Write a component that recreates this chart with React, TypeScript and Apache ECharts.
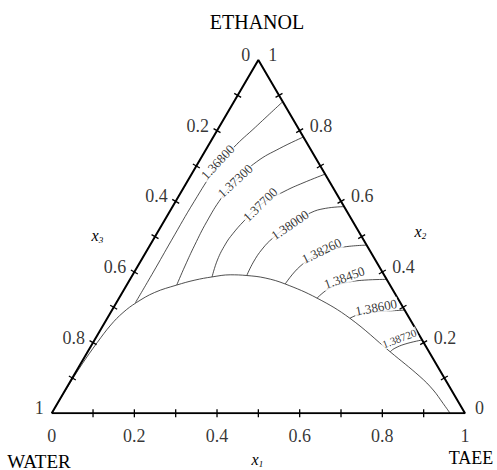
import React, { useEffect, useRef } from "react";
import * as echarts from "echarts";

// ---- data (ternary mole fractions: x1 = TAEE, x2 = ETHANOL, x3 = WATER) ----
const TICK_VALUES = [0.1, 0.2, 0.3, 0.4, 0.5, 0.6, 0.7, 0.8, 0.9];
const LABEL_VALUES = [0, 0.2, 0.4, 0.6, 0.8, 1];
const BOTTOM_LABELS = ["0", "0.2", "0.4", "0.6", "0.8", "1"]; // x1 (TAEE)
const LEFT_LABELS = ["0", "0.2", "0.4", "0.6", "0.8", "1"]; // x3 (WATER)
const RIGHT_LABELS = ["0", "0.2", "0.4", "0.6", "0.8", "1"]; // x2 (ETHANOL)

const BINODAL_TAEE = [0, 0.001, 0.004, 0.01, 0.018, 0.03, 0.048, 0.078, 0.121, 0.158, 0.195, 0.236, 0.277, 0.325, 0.382, 0.479, 0.587, 0.732, 0.839, 0.89, 0.933, 0.964];
const BINODAL_ETHANOL = [0, 0.07, 0.14, 0.2, 0.25, 0.285, 0.313, 0.342, 0.363, 0.377, 0.386, 0.392, 0.39, 0.383, 0.366, 0.326, 0.269, 0.174, 0.104, 0.066, 0.028, 0];

const ISO_NAMES = ["1.36800", "1.37300", "1.37700", "1.38000", "1.38260", "1.38450", "1.38600", "1.38720"];
const ISO_TAEE = [
  [0.118, 0.088, 0.064, 0.05, 0.045, 0.045, 0.046, 0.046],
  [0.218, 0.177, 0.14, 0.117, 0.106, 0.104, 0.108, 0.114, 0.121],
  [0.323, 0.282, 0.25, 0.21, 0.193, 0.184, 0.181, 0.184, 0.195],
  [0.415, 0.372, 0.342, 0.31, 0.287, 0.277, 0.274, 0.277],
  [0.524, 0.463, 0.423, 0.393, 0.382],
  [0.621, 0.569, 0.525, 0.496, 0.479],
  [0.708, 0.65, 0.61, 0.587],
  [0.7925, 0.757, 0.737, 0.732],
];
const ISO_ETHANOL = [
  [0.882, 0.81, 0.752, 0.69, 0.6, 0.49, 0.4, 0.313],
  [0.782, 0.75, 0.712, 0.66, 0.609, 0.542, 0.476, 0.417, 0.363],
  [0.677, 0.652, 0.629, 0.59, 0.544, 0.508, 0.479, 0.434, 0.386],
  [0.585, 0.58, 0.567, 0.533, 0.496, 0.465, 0.428, 0.39],
  [0.476, 0.469, 0.452, 0.416, 0.366],
  [0.379, 0.377, 0.369, 0.355, 0.326],
  [0.292, 0.288, 0.283, 0.269],
  [0.2075, 0.196, 0.183, 0.174],
];
const ISO_LABEL_TAEE = [0.046, 0.115, 0.209, 0.31, 0.423, 0.516, 0.635, 0.735];
const ISO_LABEL_ETHANOL = [0.711, 0.658, 0.591, 0.533, 0.46, 0.384, 0.3, 0.212];
const ISO_LABEL_ROTATE = [47, 43, 44, 34, 26, 20, 11, 21];
const ISO_LABEL_SIZE = [13, 13, 13, 13, 13, 13, 13, 11];

// ternary (TAEE, ETHANOL) -> cartesian data coords
const toXY = (t: number, e: number) => [t + e / 2, e];

const SERIF = '"Liberation Serif", "Times New Roman", serif';

export default function App() {
  const ref = useRef<HTMLDivElement>(null);
  useEffect(() => {
    if (!ref.current) return;
    document.body.style.margin = "0";
    const chart = echarts.init(ref.current, undefined, { renderer: "svg" });

    const sideLine = {
      type: "line",
      data: [toXY(0, 0), toXY(1, 0), toXY(0, 1), toXY(0, 0)],
      showSymbol: false,
      symbol: "none",
      lineStyle: { color: "#000", width: 2 },
      silent: true,
      z: 5,
    };

    const binodal = {
      type: "line",
      data: BINODAL_TAEE.map((t, i) => toXY(t, BINODAL_ETHANOL[i])),
      smooth: 0.4,
      showSymbol: false,
      symbol: "none",
      lineStyle: { color: "#222", width: 0.8 },
      silent: true,
      z: 3,
    };

    const isoLines = ISO_NAMES.map((name, k) => ({
      type: "line",
      name,
      data: ISO_TAEE[k].map((t, i) => toXY(t, ISO_ETHANOL[k][i])),
      smooth: 0.45,
      showSymbol: false,
      symbol: "none",
      lineStyle: { color: "#222", width: 0.8 },
      silent: true,
      z: 3,
    }));

    // ticks: [X, Y, side] side 0 = bottom, 1 = left, 2 = right
    const tickData: number[][] = [];
    TICK_VALUES.forEach((v) => {
      tickData.push([...toXY(v, 0), 0]);
      tickData.push([...toXY(0, 1 - v), 1]);
      tickData.push([...toXY(1 - v, v), 2]);
    });
    const normals = [
      [0, 1],
      [0.866, 0.5],
      [0.866, -0.5],
    ];
    const ticks = {
      type: "custom",
      data: tickData,
      silent: true,
      z: 6,
      renderItem: (params: any, api: any) => {
        const p = api.coord([api.value(0), api.value(1)]);
        const n = normals[api.value(2)];
        const L = 4;
        return {
          type: "line",
          shape: { x1: p[0] - n[0] * L, y1: p[1] - n[1] * L, x2: p[0] + n[0] * L, y2: p[1] + n[1] * L },
          style: { stroke: "#000", lineWidth: 1.3 },
        };
      },
    };

    const tickLabelStyle = { color: "#000", fontSize: 18, fontFamily: SERIF };
    const labelSeries = (data: any[]) => ({
      type: "scatter",
      data,
      symbolSize: 0,
      silent: true,
      z: 7,
      label: { show: true, position: "inside", verticalAlign: "middle", ...tickLabelStyle },
    });
    const bottomLabels = labelSeries(
      LABEL_VALUES.map((v, i) => ({
        value: toXY(v, 0),
        label: { formatter: BOTTOM_LABELS[i], align: "center", offset: [0, 23] },
      }))
    );
    const leftLabels = labelSeries(
      LABEL_VALUES.map((v, i) => ({
        value: toXY(0, 1 - v),
        label: { formatter: LEFT_LABELS[i], align: "right", offset: [-8, -5] },
      }))
    );
    const rightLabels = labelSeries(
      LABEL_VALUES.map((v, i) => ({
        value: toXY(1 - v, v),
        label: { formatter: RIGHT_LABELS[i], align: "left", offset: [10, -5] },
      }))
    );

    const isoLabels = {
      type: "scatter",
      symbolSize: 0,
      silent: true,
      z: 8,
      data: ISO_NAMES.map((name, k) => ({
        value: toXY(ISO_LABEL_TAEE[k], ISO_LABEL_ETHANOL[k]),
        label: {
          show: true,
          formatter: name,
          position: "inside",
          align: "center",
          verticalAlign: "middle",
          rotate: ISO_LABEL_ROTATE[k],
          fontSize: ISO_LABEL_SIZE[k],
          fontFamily: SERIF,
          color: "#000",
          backgroundColor: "#fff",
          padding: [0, 1],
        },
      })),
    };

    const titleText = (text: string, x: number, y: number, size: number, italic = false) => ({
      type: "text",
      x,
      y,
      silent: true,
      style: {
        text,
        fill: "#000",
        fontSize: size,
        fontFamily: SERIF,
        fontStyle: italic ? "italic" : "normal",
        align: "center",
        verticalAlign: "middle",
      },
    });

    chart.setOption({
      animation: false,
      backgroundColor: "#fff",
      grid: { left: 51.7, top: 60, width: 413.3, height: 353.3 },
      xAxis: { type: "value", min: 0, max: 1, show: false },
      yAxis: { type: "value", min: 0, max: 1, show: false },
      tooltip: { show: false },
      series: [sideLine, binodal, ...isoLines, ticks, bottomLabels, leftLabels, rightLabels, isoLabels],
      graphic: [
        titleText("ETHANOL", 257, 22, 20),
        titleText("WATER", 39, 461, 19),
        titleText("TAEE", 471, 458, 18),
        titleText("x", 95, 235, 16, true),
        titleText("3", 101, 240, 9, true),
        titleText("x", 418, 231, 16, true),
        titleText("2", 424, 236, 9, true),
        titleText("x", 255, 459, 16, true),
        titleText("1", 261, 464, 9, true),
      ],
    });
    return () => chart.dispose();
  }, []);
  return <div ref={ref} style={{ width: 497, height: 470, background: "#fff" }} />;
}
